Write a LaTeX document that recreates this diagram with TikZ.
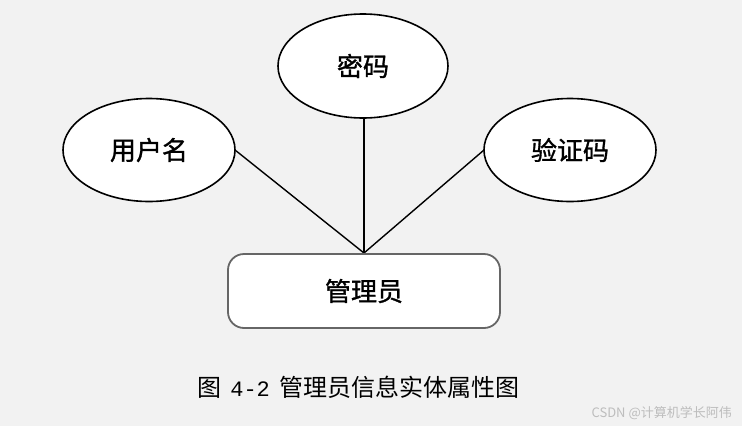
\documentclass[tikz,border=0pt]{standalone}
\usepackage{fontspec}
\setmainfont{Liberation Serif}
\newfontfamily\cjk{Noto Sans CJK SC}
\newfontfamily\cjkb[FakeBold=1.2]{Noto Sans CJK SC}
\newfontfamily\cjkmono{Liberation Mono}
\usetikzlibrary{shapes.geometric}
\definecolor{bg}{HTML}{F2F2F2}
\definecolor{boxline}{HTML}{666666}
\definecolor{wm}{HTML}{BDBDBD}
\begin{document}
\begin{tikzpicture}[x=1pt,y=-1pt,
  attr/.style={ellipse, draw=black, line width=1.6pt, fill=white,
    minimum width=172pt, minimum height=103pt, inner sep=0pt,
    font=\cjkb\fontsize{26}{30}\selectfont},
  entity/.style={rectangle, rounded corners=16pt, draw=boxline, line width=1.8pt, fill=white,
    minimum width=272pt, minimum height=74pt, inner sep=0pt,
    font=\cjkb\fontsize{26}{30}\selectfont},
  link/.style={draw=black, line width=1.4pt}]
\fill[bg] (0,0) rectangle (742,426);
\useasboundingbox (0,0) rectangle (742,426);
\coordinate (hub) at (364,253);
\draw[link] (235,150) -- (hub);
\draw[link] (364,118) -- (hub);
\draw[link] (484,150) -- (hub);
\node[attr] (user) at (149,150) {用户名};
\node[attr, minimum width=170pt, minimum height=104pt] (pwd) at (363,66) {密码};
\node[attr] (code) at (570,150) {验证码};
\node[entity] (admin) at (364,291) {管理员};
\node[font=\cjk\fontsize{24}{28}\selectfont, anchor=west, inner sep=0pt] (cap) at (197,387) {图\hspace{0.38em}{\cjkmono\fontsize{22}{26}\selectfont 4-2}\hspace{0.38em}管理员信息实体属性图};
\node[font=\cjk\fontsize{13}{15}\selectfont, text=wm, anchor=east, inner sep=0pt] (wmk) at (732,413) {CSDN @计算机学长阿伟};
\end{tikzpicture}
\end{document}
